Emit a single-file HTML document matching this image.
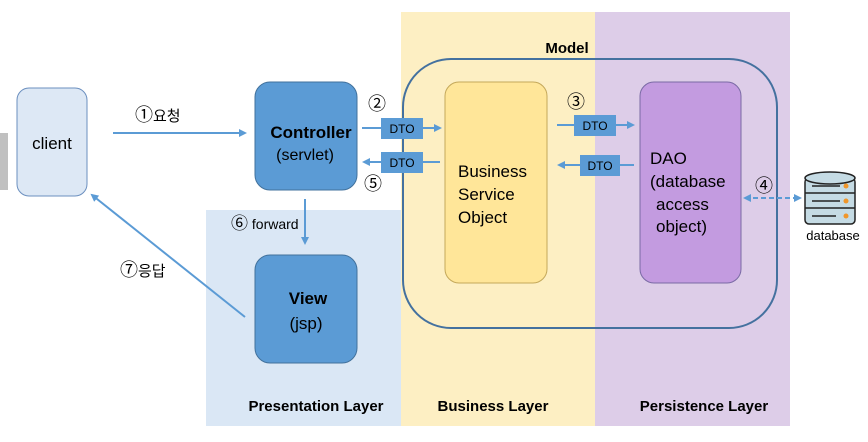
<!DOCTYPE html>
<html><head><meta charset="utf-8"><style>
html,body{margin:0;padding:0;background:#fff;}
svg{display:block;font-family:"Liberation Sans","Noto Sans CJK KR",sans-serif;}
</style></head><body>
<svg width="868" height="442" viewBox="0 0 868 442" xmlns="http://www.w3.org/2000/svg">
<defs>
<marker id="a" markerWidth="8" markerHeight="8" refX="6" refY="4" orient="auto" markerUnits="userSpaceOnUse"><path d="M0,0 L8,4 L0,8 z" fill="#5b9bd5"/></marker>
<marker id="b" markerWidth="8" markerHeight="8" refX="2" refY="4" orient="auto" markerUnits="userSpaceOnUse"><path d="M8,0 L0,4 L8,8 z" fill="#5b9bd5"/></marker>
</defs>
<rect x="0" y="133" width="8" height="57" fill="#c0c0c0"/>
<rect x="206" y="210" width="195" height="216" fill="#dae7f5"/>
<rect x="401" y="12" width="194" height="414" fill="#fdefc3"/>
<rect x="595" y="12" width="195" height="414" fill="#ddcde8"/>
<rect x="403" y="59" width="374" height="269" rx="48" fill="none" stroke="#44719f" stroke-width="2"/>
<text x="567" y="53" font-size="15" font-weight="bold" text-anchor="middle">Model</text>
<rect x="17" y="88" width="70" height="108" rx="12" fill="#dde8f5" stroke="#6b8fbf"/>
<text x="52" y="149" font-size="17" text-anchor="middle">client</text>
<line x1="113" y1="133" x2="245" y2="133" stroke="#5b9bd5" stroke-width="2" marker-end="url(#a)"/>
<text x="135" y="121" font-size="15"><tspan font-size="18">①</tspan>요청</text>
<rect x="255" y="82" width="102" height="108" rx="15" fill="#5b9bd5" stroke="#41719c"/>
<text x="311" y="138" font-size="17" font-weight="bold" text-anchor="middle">Controller</text>
<text x="305" y="160" font-size="16" text-anchor="middle">(servlet)</text>
<rect x="445" y="82" width="102" height="201" rx="14" fill="#ffe699" stroke="#c4a85a"/>
<text x="458" y="177" font-size="17">Business</text>
<text x="458" y="200" font-size="17">Service</text>
<text x="458" y="223" font-size="17">Object</text>
<rect x="640" y="82" width="101" height="201" rx="14" fill="#c39be0" stroke="#7a6aa5"/>
<text x="650" y="164" font-size="17">DAO</text>
<text x="650" y="187" font-size="17">(database</text>
<text x="656" y="210" font-size="17">access</text>
<text x="656" y="232" font-size="17">object)</text>
<line x1="362" y1="128" x2="440" y2="128" stroke="#5b9bd5" stroke-width="2" marker-end="url(#a)"/>
<rect x="381" y="118" width="42" height="21" fill="#5b9bd5"/>
<text x="402" y="133" font-size="12" text-anchor="middle">DTO</text>
<line x1="440" y1="162" x2="364" y2="162" stroke="#5b9bd5" stroke-width="2" marker-end="url(#a)"/>
<rect x="381" y="152" width="42" height="21" fill="#5b9bd5"/>
<text x="402" y="167" font-size="12" text-anchor="middle">DTO</text>
<text x="377" y="110" font-size="18" text-anchor="middle">②</text>
<text x="373" y="190" font-size="18" text-anchor="middle">⑤</text>
<line x1="557" y1="125" x2="633" y2="125" stroke="#5b9bd5" stroke-width="2" marker-end="url(#a)"/>
<rect x="574" y="115" width="42" height="21" fill="#5b9bd5"/>
<text x="595" y="130" font-size="12" text-anchor="middle">DTO</text>
<line x1="634" y1="165" x2="559" y2="165" stroke="#5b9bd5" stroke-width="2" marker-end="url(#a)"/>
<rect x="580" y="155" width="40" height="21" fill="#5b9bd5"/>
<text x="600" y="170" font-size="12" text-anchor="middle">DTO</text>
<text x="576" y="108" font-size="18" text-anchor="middle">③</text>
<text x="764" y="192" font-size="18" text-anchor="middle">④</text>
<line x1="745" y1="198" x2="800" y2="198" stroke="#5b9bd5" stroke-width="2" stroke-dasharray="5,3" marker-end="url(#a)" marker-start="url(#b)"/>
<g stroke="#222" stroke-width="1.5">
<rect x="805" y="178" width="50" height="46" rx="4" fill="#c5dbe4"/>
<ellipse cx="830" cy="178" rx="25" ry="6" fill="#c5dbe4"/>
<line x1="805" y1="193" x2="855" y2="193"/>
<line x1="805" y1="208" x2="855" y2="208"/>
<line x1="812" y1="186" x2="840" y2="186"/><line x1="812" y1="201" x2="840" y2="201"/><line x1="812" y1="216" x2="836" y2="216"/>
</g>
<circle cx="846" cy="186" r="2.5" fill="#f0962a"/><circle cx="846" cy="201" r="2.5" fill="#f0962a"/><circle cx="846" cy="216" r="2.5" fill="#f0962a"/>
<text x="833" y="240" font-size="13" text-anchor="middle">database</text>
<line x1="305" y1="199" x2="305" y2="243" stroke="#5b9bd5" stroke-width="2" marker-end="url(#a)"/>
<text x="231" y="229" font-size="14"><tspan font-size="17">⑥</tspan> forward</text>
<rect x="255" y="255" width="102" height="108" rx="15" fill="#5b9bd5" stroke="#41719c"/>
<text x="308" y="304" font-size="17" font-weight="bold" text-anchor="middle">View</text>
<text x="306" y="329" font-size="17" text-anchor="middle">(jsp)</text>
<line x1="245" y1="317" x2="92" y2="195" stroke="#5b9bd5" stroke-width="2" marker-end="url(#a)"/>
<text x="120" y="276" font-size="15"><tspan font-size="18">⑦</tspan>응답</text>
<text x="316" y="411" font-size="15" font-weight="bold" text-anchor="middle">Presentation Layer</text>
<text x="493" y="411" font-size="15" font-weight="bold" text-anchor="middle">Business Layer</text>
<text x="704" y="411" font-size="15" font-weight="bold" text-anchor="middle">Persistence Layer</text>
</svg>
</body></html>
